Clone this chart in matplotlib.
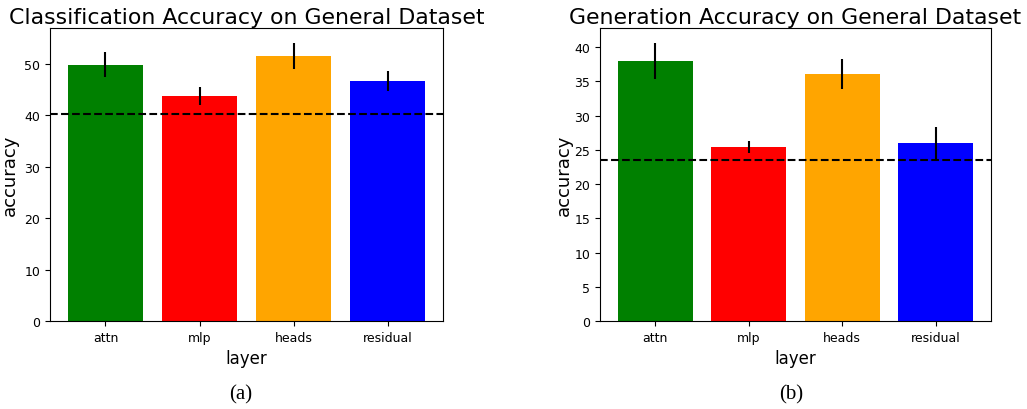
import matplotlib
matplotlib.use("Agg")
import matplotlib.pyplot as plt

layers = ["attn", "mlp", "heads", "residual"]
colors = ["green", "red", "orange", "blue"]

cls_acc = [49.9, 43.8, 51.6, 46.7]
cls_err = [2.4, 1.8, 2.5, 1.9]
cls_baseline = 40.2

gen_acc = [38.0, 25.4, 36.1, 26.0]
gen_err = [2.6, 0.9, 2.2, 2.3]
gen_baseline = 23.6

fig = plt.figure(figsize=(10.27, 4.10), dpi=100)
ax1 = fig.add_axes([0.0487, 0.2146, 0.3827, 0.7144])
ax2 = fig.add_axes([0.5842, 0.2146, 0.3807, 0.7144])

def draw(ax, vals, errs, base, title):
    ax.bar(layers, vals, yerr=errs, color=colors, width=0.8,
           error_kw=dict(ecolor="black", elinewidth=1.5, capsize=0))
    ax.axhline(base, color="black", linestyle="--", linewidth=1.5)
    ax.set_title(title, fontsize=15.8, pad=4)
    ax.set_xlabel("layer", fontsize=12)
    ax.set_ylabel("accuracy", fontsize=13)
    ax.tick_params(labelsize=9)

draw(ax1, cls_acc, cls_err, cls_baseline, "Classification Accuracy on General Dataset")
draw(ax2, gen_acc, gen_err, gen_baseline, "Generation Accuracy on General Dataset")
ax1.set_ylim(0, 57)
ax2.set_ylim(0, 42.8)
ax2.set_yticks(range(0, 41, 5))
ax2.yaxis.labelpad = 1

fig.text(0.234, 0.025, "(a)", fontsize=15, family="Liberation Serif", ha="center")
fig.text(0.770, 0.025, "(b)", fontsize=15, family="Liberation Serif", ha="center")

fig.savefig("out.png", dpi=100)
